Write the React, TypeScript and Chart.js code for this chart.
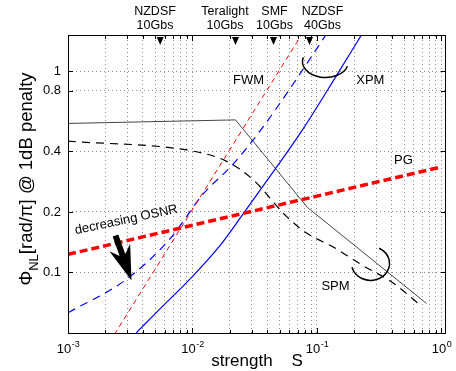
import React, { useEffect, useRef } from 'react';
import { Chart, registerables } from 'chart.js';

Chart.register(...registerables);

const FONT = '"Liberation Sans", Arial, sans-serif';

// ---- axes ----
const xMin = 0.001;
const xMax = 1.087;
const yMin = 0.05;
const yMax = 1.5;
const xTickValues = [
  0.001, 0.002, 0.003, 0.004, 0.005, 0.006, 0.007, 0.008, 0.009,
  0.01, 0.02, 0.03, 0.04, 0.05, 0.06, 0.07, 0.08, 0.09,
  0.1, 0.2, 0.3, 0.4, 0.5, 0.6, 0.7, 0.8, 0.9, 1,
];
const xLabelValues = [0.001, 0.01, 0.1, 1];
const xLabelExponents = ['-3', '-2', '-1', '0'];
const yTickValues = [0.1, 0.2, 0.4, 0.8, 1];
const yTickLabels = ['0.1', '0.2', '0.4', '0.8', '1'];

// ---- series (strength S, phi_NL) ----
const spmSolidS = [0.001, 0.02215, 0.0839, 0.758];
const spmSolidPhi = [0.551, 0.574, 0.2105, 0.0701];

const spmDashedS = [0.001, 0.01006, 0.01866, 0.0305, 0.05655, 0.0819, 0.1382, 0.2333, 0.4063, 0.6658];
const spmDashedPhi = [0.4498, 0.4014, 0.3579, 0.2902, 0.1906, 0.1576, 0.1327, 0.1083, 0.0889, 0.0693];

const pgS = [0.001, 0.98];
const pgPhi = [0.123, 0.334];

const fwmS = [0.00236, 0.0746];
const fwmPhi = [0.0492, 1.51];

const xpmDashedS = [0.001, 0.002934, 0.006535, 0.0121, 0.02108, 0.03563, 0.0601, 0.1186];
const xpmDashedPhi = [0.063, 0.0923, 0.146, 0.2444, 0.3446, 0.5146, 0.8136, 1.528];

const xpmSolidS = [0.00353, 0.00543, 0.01006, 0.01648, 0.02535, 0.04702, 0.07691, 0.1426, 0.2333];
const xpmSolidPhi = [0.0501, 0.0655, 0.0959, 0.1351, 0.1943, 0.3319, 0.5146, 0.9476, 1.557];

// ---- fibre markers on top ----
const fiberNames = ['NZDSF', 'Teralight', 'SMF', 'NZDSF'];
const fiberRates = ['10Gbs', '10Gbs', '10Gbs', '40Gbs'];
const fiberS = [0.0055, 0.02215, 0.04473, 0.08707];
const fiberLabelS = [0.005, 0.01824, 0.0456, 0.1107];

// ---- annotations ----
const noteTexts = ['FWM', 'XPM', 'SPM', 'PG'];
const noteS = [0.0282, 0.268, 0.1408, 0.495];
const notePhi = [0.8616, 0.8616, 0.0816, 0.3474];

const osnrText = 'decreasing OSNR';
const osnrS = 0.002978;
const osnrPhi = 0.1753;
const arrowTailS = 0.002406;
const arrowTailPhi = 0.1528;
const arrowTipS = 0.003236;
const arrowTipPhi = 0.0912;

const arcCenterS = [0.117, 0.269];
const arcCenterPhi = [1.12, 0.111];

const pts = (s: number[], p: number[]) => s.map((v, i) => ({ x: v, y: p[i] }));

const deg = Math.PI / 180;

const decor = {
  id: 'decor',
  afterDraw(chart: any) {
    const ctx: CanvasRenderingContext2D = chart.ctx;
    const xs = chart.scales.x;
    const ys = chart.scales.y;
    const { left, right, top, bottom } = chart.chartArea;
    ctx.save();

    // box
    ctx.strokeStyle = '#000';
    ctx.lineWidth = 1;
    ctx.setLineDash([]);
    ctx.strokeRect(left + 0.5, top - 0.5, right - left - 1, bottom - top + 1);

    // tick marks
    ctx.beginPath();
    xTickValues.forEach((v) => {
      const px = Math.round(xs.getPixelForValue(v)) + 0.5;
      const len = xLabelValues.includes(v) ? 5 : 3;
      ctx.moveTo(px, bottom);
      ctx.lineTo(px, bottom - len);
      ctx.moveTo(px, top);
      ctx.lineTo(px, top + len);
    });
    yTickValues.forEach((v) => {
      const py = Math.round(ys.getPixelForValue(v)) + 0.5;
      ctx.moveTo(left, py);
      ctx.lineTo(left + 5, py);
      ctx.moveTo(right, py);
      ctx.lineTo(right - 5, py);
    });
    ctx.stroke();

    // x tick labels 10^n
    ctx.fillStyle = '#000';
    xLabelValues.forEach((v, i) => {
      const px = xs.getPixelForValue(v);
      ctx.font = `13px ${FONT}`;
      const w1 = ctx.measureText('10').width;
      ctx.font = `9px ${FONT}`;
      const w2 = ctx.measureText(xLabelExponents[i]).width;
      const x0 = px - (w1 + w2) / 2;
      ctx.textAlign = 'left';
      ctx.textBaseline = 'alphabetic';
      ctx.font = `13px ${FONT}`;
      ctx.fillText('10', x0, bottom + 20);
      ctx.font = `9px ${FONT}`;
      ctx.fillText(xLabelExponents[i], x0 + w1 + 0.5, bottom + 14);
    });

    // fibre triangles and labels
    fiberS.forEach((s, i) => {
      const px = xs.getPixelForValue(s);
      ctx.beginPath();
      ctx.moveTo(px - 3.5, top + 1);
      ctx.lineTo(px + 3.5, top + 1);
      ctx.lineTo(px, top + 9);
      ctx.closePath();
      ctx.fill();
      const lx = xs.getPixelForValue(fiberLabelS[i]);
      ctx.font = `12.5px ${FONT}`;
      ctx.textAlign = 'center';
      ctx.textBaseline = 'alphabetic';
      ctx.fillText(fiberNames[i], lx, 15);
      ctx.fillText(fiberRates[i], lx, 28.5);
    });

    // annotation texts
    ctx.font = `13px ${FONT}`;
    ctx.textAlign = 'center';
    ctx.textBaseline = 'alphabetic';
    noteTexts.forEach((t, i) => {
      ctx.fillText(t, xs.getPixelForValue(noteS[i]), ys.getPixelForValue(notePhi[i]));
    });

    // arcs (XPM, SPM)
    ctx.lineWidth = 1.5;
    ctx.beginPath();
    ctx.ellipse(xs.getPixelForValue(arcCenterS[0]), ys.getPixelForValue(arcCenterPhi[0]), 23, 16, 0, 195 * deg, 17 * deg, true);
    ctx.stroke();
    ctx.beginPath();
    ctx.ellipse(xs.getPixelForValue(arcCenterS[1]), ys.getPixelForValue(arcCenterPhi[1]), 19, 17, 0, -63 * deg, 167 * deg, false);
    ctx.stroke();

    // decreasing OSNR text
    ctx.save();
    ctx.translate(xs.getPixelForValue(osnrS), ys.getPixelForValue(osnrPhi));
    ctx.rotate(-12 * deg);
    ctx.font = `13px ${FONT}`;
    ctx.textAlign = 'center';
    ctx.textBaseline = 'alphabetic';
    ctx.fillText(osnrText, 0, 0);
    ctx.restore();

    // arrow
    const tx = xs.getPixelForValue(arrowTailS);
    const ty = ys.getPixelForValue(arrowTailPhi);
    const hx = xs.getPixelForValue(arrowTipS);
    const hy = ys.getPixelForValue(arrowTipPhi);
    const L = Math.hypot(hx - tx, hy - ty);
    const ux = (hx - tx) / L;
    const uy = (hy - ty) / L;
    const nx = -uy;
    const ny = ux;
    const headLen = 35;
    const headHalf = 11;
    const notch = 27;
    const sh = 3;
    ctx.beginPath();
    ctx.moveTo(tx + nx * sh, ty + ny * sh);
    ctx.lineTo(hx - ux * notch + nx * sh, hy - uy * notch + ny * sh);
    ctx.lineTo(hx - ux * headLen + nx * headHalf, hy - uy * headLen + ny * headHalf);
    ctx.lineTo(hx, hy);
    ctx.lineTo(hx - ux * headLen - nx * headHalf, hy - uy * headLen - ny * headHalf);
    ctx.lineTo(hx - ux * notch - nx * sh, hy - uy * notch - ny * sh);
    ctx.lineTo(tx - nx * sh, ty - ny * sh);
    ctx.closePath();
    ctx.fill();

    // axis titles
    ctx.font = `17px ${FONT}`;
    ctx.textAlign = 'center';
    ctx.textBaseline = 'alphabetic';
    ctx.fillText('strength    S', (left + right) / 2, 366);

    ctx.save();
    ctx.translate(32, 179);
    ctx.rotate(-Math.PI / 2);
    const phi = 'Φ';
    const sub = 'NL';
    const rest = '[rad/π] @ 1dB penalty';
    ctx.font = `18.5px ${FONT}`;
    const wPhi = ctx.measureText(phi).width;
    const wRest = ctx.measureText(rest).width;
    ctx.font = `13px ${FONT}`;
    const wSub = ctx.measureText(sub).width;
    const total = wPhi + wSub + wRest;
    let cx = -total / 2;
    ctx.textAlign = 'left';
    ctx.font = `18.5px ${FONT}`;
    ctx.fillText(phi, cx, 0);
    cx += wPhi;
    ctx.font = `13px ${FONT}`;
    ctx.fillText(sub, cx, 6);
    cx += wSub;
    ctx.font = `18.5px ${FONT}`;
    ctx.fillText(rest, cx, 0);
    ctx.restore();

    ctx.restore();
  },
};

export default function App() {
  const ref = useRef<HTMLCanvasElement>(null);
  useEffect(() => {
    const gridCommon = {
      color: 'rgba(0,0,0,0.45)',
      lineWidth: 1,
      drawTicks: false,
    };
    const chart = new Chart(ref.current as HTMLCanvasElement, {
      type: 'line',
      data: {
        datasets: [
          { label: 'PG', data: pts(pgS, pgPhi), borderColor: '#ff0000', borderWidth: 3.5, borderDash: [8, 4] },
          { label: 'FWM', data: pts(fwmS, fwmPhi), borderColor: '#ff0000', borderWidth: 1, borderDash: [5, 4] },
          { label: 'XPM dashed', data: pts(xpmDashedS, xpmDashedPhi), borderColor: '#0000ff', borderWidth: 1.2, borderDash: [8, 6], cubicInterpolationMode: 'monotone' },
          { label: 'XPM', data: pts(xpmSolidS, xpmSolidPhi), borderColor: '#0000ff', borderWidth: 1.2, cubicInterpolationMode: 'monotone' },
          { label: 'SPM dashed', data: pts(spmDashedS, spmDashedPhi), borderColor: '#000000', borderWidth: 1.2, borderDash: [8, 6], cubicInterpolationMode: 'monotone' },
          { label: 'SPM', data: pts(spmSolidS, spmSolidPhi), borderColor: '#444444', borderWidth: 1 },
        ] as any,
      },
      options: {
        animation: false,
        responsive: false,
        devicePixelRatio: 1,
        layout: { padding: { left: 0, right: 10, top: 36, bottom: 0 } },
        elements: { point: { radius: 0 }, line: { tension: 0, fill: false } },
        plugins: { legend: { display: false }, tooltip: { enabled: false }, title: { display: false } },
        scales: {
          x: {
            type: 'logarithmic',
            min: xMin,
            max: xMax,
            afterBuildTicks: (scale: any) => {
              scale.ticks = xTickValues.map((value) => ({ value }));
            },
            afterFit: (scale: any) => {
              scale.height = 38;
            },
            ticks: { display: false },
            grid: gridCommon,
            border: { display: false, dash: [1, 3] },
          },
          y: {
            type: 'logarithmic',
            min: yMin,
            max: yMax,
            afterBuildTicks: (scale: any) => {
              scale.ticks = yTickValues.map((value) => ({ value }));
            },
            afterFit: (scale: any) => {
              scale.width = 68;
            },
            ticks: {
              autoSkip: false,
              padding: 7,
              color: '#000',
              font: { family: FONT, size: 13 },
              callback: (value: any) => {
                const i = yTickValues.indexOf(Number(value));
                return i >= 0 ? yTickLabels[i] : '';
              },
            },
            grid: gridCommon,
            border: { display: false, dash: [1, 3] },
          },
        },
      } as any,
      plugins: [decor],
    });
    return () => chart.destroy();
  }, []);
  return (
    <div style={{ position: 'fixed', left: 0, top: 0, width: 456, height: 371, background: '#fff' }}>
      <canvas ref={ref} width={456} height={371} style={{ display: 'block', width: 456, height: 371 }} />
    </div>
  );
}
